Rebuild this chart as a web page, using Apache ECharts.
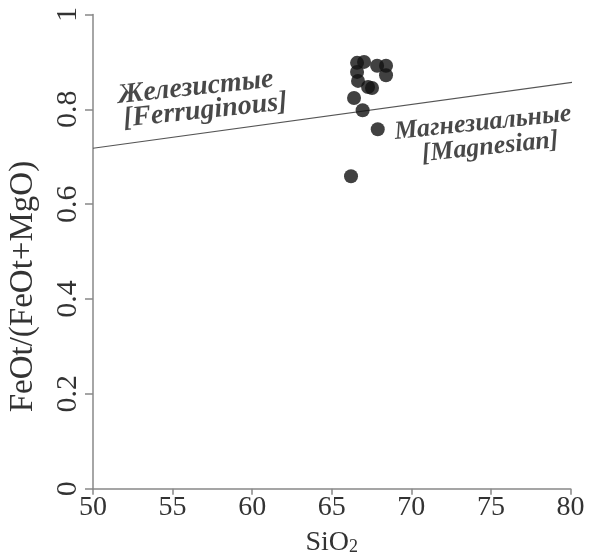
<!DOCTYPE html>
<html>
<head>
<meta charset="utf-8">
<script src="https://cdn.jsdelivr.net/npm/echarts@6/dist/echarts.min.js"></script>
<style>html,body{margin:0;padding:0;background:#fff;}#c{width:593px;height:556px;}</style>
</head>
<body>
<div id="c"></div>
<script>
// Data
var sio2 = [66.59, 67.03, 67.85, 68.41, 68.41, 66.59, 66.65, 67.28, 67.53, 66.40, 66.94, 67.89, 66.21];
var feRatio = [0.898, 0.900, 0.892, 0.892, 0.872, 0.879, 0.860, 0.847, 0.845, 0.824, 0.798, 0.758, 0.659];
var dividerX = [50, 80.35];
var dividerY = [0.718, 0.858];
var xTicks = [50, 55, 60, 65, 70, 75, 80];
var yTicks = [0, 0.2, 0.4, 0.6, 0.8, 1];
var labelTexts = ['Железистые', '[Ferruginous]', 'Магнезиальные', '[Magnesian]'];
var labelX = [56.45, 57.05, 74.5, 74.95];
var labelY = [0.846, 0.797, 0.771, 0.720];
var labelSizes = [28, 28, 26, 26];

var FONT = 'Liberation Serif';
var chart = echarts.init(document.getElementById('c'));

var pts = sio2.map(function (v, i) { return [v, feRatio[i]]; });
var line = dividerX.map(function (v, i) { return [v, dividerY[i]]; });
var labels = labelTexts.map(function (t, i) {
  return { value: [labelX[i], labelY[i]], name: t, label: { fontSize: labelSizes[i] } };
});

chart.setOption({
  animation: false,
  backgroundColor: '#fff',
  grid: { left: 93, right: 22.5, top: 14.5, bottom: 67.3, containLabel: false, outerBoundsMode: 'none' },
  xAxis: {
    type: 'value', min: xTicks[0], max: xTicks[xTicks.length - 1], interval: 5,
    name: '{a|SiO}{b|2}', nameLocation: 'middle', nameGap: 40,
    nameTextStyle: { rich: {
      a: { fontFamily: FONT, fontSize: 28, color: '#333' },
      b: { fontFamily: FONT, fontSize: 18, color: '#333', padding: [10, 0, 0, 0] }
    } },
    axisLine: { show: true, lineStyle: { color: '#888', width: 1.5 } },
    axisTick: { show: true, length: 6, lineStyle: { color: '#888', width: 1.5 } },
    axisLabel: { fontFamily: FONT, fontSize: 28, color: '#333', margin: 5 },
    splitLine: { show: false }
  },
  yAxis: {
    type: 'value', min: yTicks[0], max: yTicks[yTicks.length - 1], interval: 0.2,
    name: 'FeOt/(FeOt+MgO)', nameLocation: 'middle', nameGap: 53,
    nameTextStyle: { fontFamily: FONT, fontSize: 33, color: '#333', padding: [0, 70, 0, 0] },
    axisLine: { show: true, lineStyle: { color: '#888', width: 1.5 } },
    axisTick: { show: true, length: 8, lineStyle: { color: '#888', width: 1.5 } },
    axisLabel: { fontFamily: FONT, fontSize: 30, color: '#333', rotate: 90, margin: 10 },
    splitLine: { show: false }
  },
  series: [
    {
      type: 'line', data: line, clip: false, symbol: 'none',
      lineStyle: { color: '#555', width: 1.2 }, silent: true, z: 1
    },
    {
      type: 'scatter', data: pts, symbol: 'circle', symbolSize: 14,
      itemStyle: { color: '#111' }, z: 3
    },
    {
      type: 'scatter', data: labels, symbolSize: 0, silent: true, z: 4,
      label: {
        show: true, position: 'inside', rotate: 6,
        formatter: function (p) { return p.name; },
        fontFamily: FONT, fontSize: 26, fontStyle: 'italic', fontWeight: 'bold', color: '#1a1a1a'
      }
    }
  ]
});
</script>
</body>
</html>
